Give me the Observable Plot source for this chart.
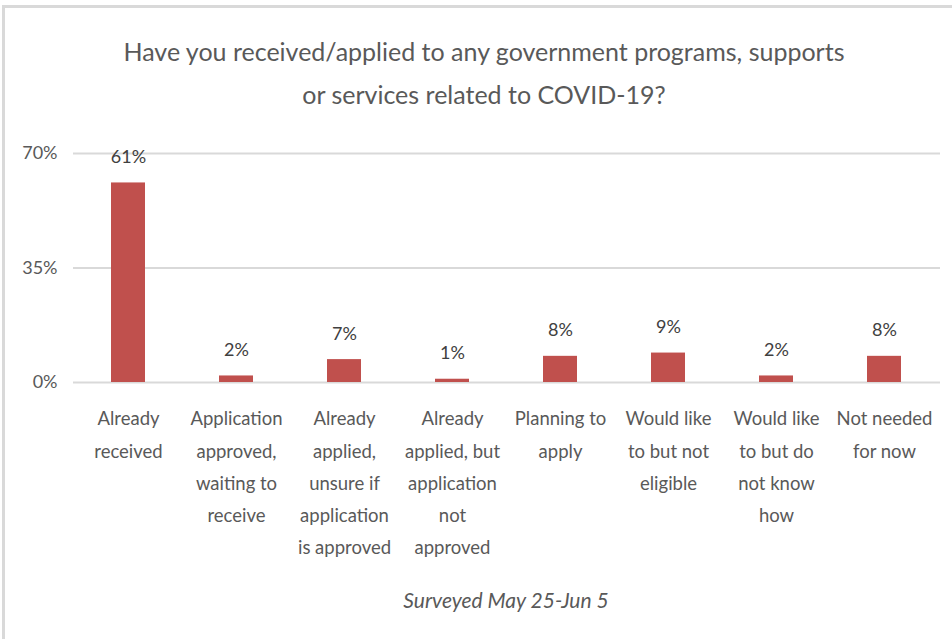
<!DOCTYPE html>
<html>
<head>
<meta charset="utf-8">
<script src="https://cdn.jsdelivr.net/npm/d3@7"></script>
<script src="https://cdn.jsdelivr.net/npm/@observablehq/plot@0.6"></script>
<style>
  html, body { margin: 0; padding: 0; background: #fff; width: 952px; height: 639px; overflow: hidden; }
  #frame { position: absolute; left: 2px; top: 5px; width: 1000px; height: 700px; border-top: 3px solid #d9d9d9; border-left: 3px solid #d9d9d9; box-sizing: border-box; }
  .title { position: absolute; left: 0; width: 968px; text-align: center; font-family: Lato, sans-serif; font-size: 25px; color: #595959; white-space: nowrap; }
  #chart { position: absolute; left: 0; top: 0; }
  #caption { position: absolute; left: 0; width: 1012px; top: 587px; text-align: center; font-family: Lato, sans-serif; font-style: italic; font-size: 21px; color: #595959; }
</style>
</head>
<body>
<div id="frame"></div>
<div id="chart"></div>
<div class="title" style="top:36px">Have you received/applied to any government programs, supports</div>
<div class="title" style="top:79px">or services related to COVID-19?</div>
<div id="caption">Surveyed May 25-Jun 5</div>
<script>
const categories = ["Already received", "Application approved, waiting to receive", "Already applied, unsure if application is approved", "Already applied, but application not approved", "Planning to apply", "Would like to but not eligible", "Would like to but do not know how", "Not needed for now"];
const categoryLabels = ["Already\nreceived", "Application\napproved,\nwaiting to\nreceive", "Already\napplied,\nunsure if\napplication\nis approved", "Already\napplied, but\napplication\nnot\napproved", "Planning to\napply", "Would like\nto but not\neligible", "Would like\nto but do\nnot know\nhow", "Not needed\nfor now"];
const values = [61, 2, 7, 1, 8, 9, 2, 8];
const yTicks = [0, 35, 70];

const data = categories.map((c, i) => ({category: c, value: values[i]}));
const labelMap = new Map(categories.map((c, i) => [c, categoryLabels[i]]));

const plot = Plot.plot({
  width: 952,
  height: 580,
  marginTop: 153,
  marginBottom: 198,
  marginLeft: 73,
  marginRight: 12,
  style: {fontFamily: "Lato, sans-serif", color: "#595959", background: "transparent"},
  x: {domain: categories, paddingInner: 0.685, paddingOuter: 0.3425, axis: null},
  y: {domain: [0, 70], axis: null},
  marks: [
    Plot.gridY(yTicks, {stroke: "#d9d9d9", strokeOpacity: 1, strokeWidth: 2}),
    Plot.axisY(yTicks, {tickSize: 0, tickPadding: 16, fontSize: 18, label: null, tickFormat: d => d + "%"}),
    Plot.barY(data, {x: "category", y: "value", fill: "#C0504D"}),
    Plot.text(data, {x: "category", y: "value", text: d => d.value + "%", lineAnchor: "bottom", dy: -20, fontSize: 18, fill: "#404040"}),
    Plot.axisX(categories, {tickSize: 0, tickPadding: 20, fontSize: 18.5, lineHeight: 1.74, label: null, tickFormat: d => labelMap.get(d)})
  ]
});
document.getElementById("chart").appendChild(plot);
</script>
</body>
</html>
